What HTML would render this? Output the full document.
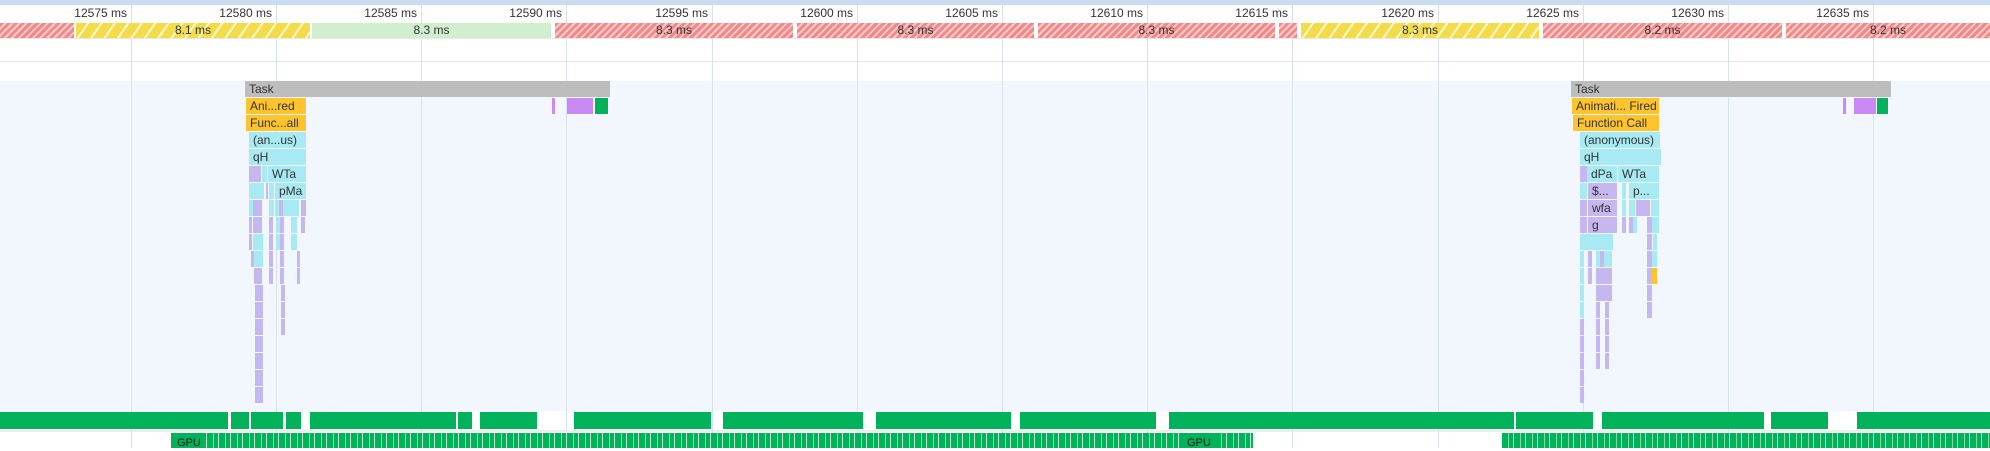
<!DOCTYPE html>
<html><head><meta charset="utf-8">
<style>
html,body{margin:0;padding:0;}
body{width:1990px;height:448px;position:relative;overflow:hidden;background:#fff;font-family:"Liberation Sans",sans-serif;}
.a{position:absolute;box-sizing:border-box;}
.t{font-size:12px;color:#333;white-space:nowrap;overflow:hidden;line-height:16px;padding-left:4px;}
.red{background:repeating-linear-gradient(135deg,#f08a8a 0 3px,#f9c9c9 3px 5px);}
.yel{background:repeating-linear-gradient(125deg,#f3dc4c 0 9px,#fff7c8 9px 11px);}
.grn{background:#d1efcf;}
.fr{font-size:12px;color:#333;text-align:center;line-height:15px;}
.c{background:#a8eaf3;}
.p{background:#c5b8ee;}
.y{background:#fec42e;}
.g{background:#00b35a;}
</style></head><body>
<div class="a" style="left:0;top:0;width:1990px;height:5px;background:#c9dcf3;"></div>
<div class="a" style="left:0;top:38px;width:1990px;height:1px;background:#e8e8e8;"></div>
<div class="a" style="left:0;top:61px;width:1990px;height:1px;background:#e8e8e8;"></div>
<div class="a" style="left:0;top:81px;width:1990px;height:330px;background:#f2f6fd;"></div>
<div class="a" style="left:0;top:430px;width:1990px;height:2px;background:#eee;"></div>
<div id="root"></div>
<script>
var R=document.getElementById('root'),H='';
function d(x,y,w,h,cls,txt,st){H+='<div class="a '+(cls||'')+'" style="left:'+x+'px;top:'+y+'px;width:'+w+'px;height:'+h+'px;'+(st||'')+'">'+(txt||'')+'</div>';}
var ticks=[131,276,421,566,712,857,1002,1147,1292,1438,1583,1728,1873],lab=12575;
ticks.forEach(function(x,i){d(x,5,1,443,'','','background:#d6e2f3;');d(x-100,5,96,17,'','<span style="float:right;font-size:12px;color:#333;line-height:17px">'+(lab+5*i)+' ms</span>');});
var fr=[[0,74,'red',''],[76,234,'yel','8.1 ms'],[312,239,'grn','8.3 ms'],[555,238,'red','8.3 ms'],[797,237,'red','8.3 ms'],[1038,237,'red','8.3 ms'],[1279,18,'red',''],[1301,238,'yel','8.3 ms'],[1543,239,'red','8.2 ms'],[1786,204,'red','8.2 ms']];
fr.forEach(function(f){d(f[0],23,f[1],15,f[2]+' fr',f[3]);});
function row(r){return 81+r*17;}
// left stack
d(245,81,365,16,'','<span class="t" style="display:block">Task</span>','background:#bdbdbd;');
d(246,98,60,16,'y t','Ani...red');d(246,115,60,16,'y t','Func...all');
d(249,132,57,16,'c t','(an...us)');d(249,149,57,16,'c t','qH');
d(249,166,12,16,'p');d(262,166,5,16,'c');d(268,166,38,16,'c t','WTa');
d(249,183,15,16,'c');d(266,183,2,16,'p');d(269,183,5,16,'c');d(275,183,31,16,'c t','pMa');
d(249,200,4,16,'c');d(253,200,9,16,'p');d(269,200,5,16,'c');d(275,200,4,16,'c');d(279,200,4,16,'p');d(283,200,16,16,'c');d(301,200,5,16,'p');
d(249,217,3,16,'p');d(253,217,9,16,'p');d(269,217,4,16,'p');d(276,217,4,16,'c');d(280,217,4,16,'p');d(291,217,6,16,'c');d(301,217,4,16,'p');
d(249,234,3,16,'p');d(253,234,10,16,'c');d(269,234,4,16,'p');d(276,234,4,16,'c');d(280,234,4,16,'p');d(291,234,6,16,'c');
d(251,251,3,16,'p');d(254,251,9,16,'c');d(269,251,4,16,'p');d(280,251,4,16,'p');d(297,251,3,16,'p');
d(254,268,8,16,'p');d(269,268,4,16,'p');d(280,268,4,16,'p');d(297,268,3,16,'p');
for(var r=12;r<19;r++)d(255,row(r),8,16,'p');
for(var r=12;r<15;r++)d(281,row(r),4,16,'p');
d(552,98,3,16,'','','background:#c98af5');d(567,98,26,16,'','','background:#c98af5');d(595,98,13,16,'g');
// right stack
d(1571,81,320,16,'','<span class="t" style="display:block">Task</span>','background:#bdbdbd;');
d(1572,98,87,16,'y t','Animati... Fired');d(1573,115,86,16,'y t','Function Call');
d(1580,132,80,16,'c t','(anonymous)');d(1580,149,81,16,'c t','qH');
d(1580,166,7,16,'p');d(1587,166,30,16,'c t','dPa');d(1618,166,41,16,'c t','WTa');
d(1580,183,7,16,'c');d(1588,183,29,16,'p t','$...');d(1622,183,4,16,'c');d(1629,183,30,16,'c t','p...');
d(1580,200,7,16,'p');d(1588,200,29,16,'p t','wfa');d(1622,200,4,16,'c');d(1629,200,6,16,'c');d(1636,200,14,16,'p');d(1651,200,8,16,'c');
d(1580,217,7,16,'p');d(1588,217,29,16,'p t','g');d(1622,217,4,16,'p');d(1629,217,4,16,'p');d(1633,217,4,16,'c');d(1647,217,5,16,'p');d(1652,217,7,16,'c');
d(1580,234,33,16,'c');d(1647,234,5,16,'p');d(1653,234,4,16,'c');
d(1580,251,4,16,'c');d(1588,251,4,16,'p');d(1596,251,4,16,'c');d(1600,251,4,16,'p');d(1604,251,8,16,'c');d(1647,251,5,16,'p');d(1652,251,5,16,'c');
d(1580,268,4,16,'c');d(1588,268,4,16,'p');d(1596,268,16,16,'p');d(1647,268,5,16,'p');d(1652,268,5,16,'y');
d(1580,285,4,16,'c');d(1596,285,16,16,'p');d(1647,285,5,16,'p');
d(1580,302,4,16,'c');d(1596,302,4,16,'p');d(1605,302,4,16,'p');d(1647,302,5,16,'p');
for(var r=14;r<17;r++){d(1580,row(r),4,16,'p');d(1596,row(r),4,16,'p');d(1605,row(r),4,16,'p');}
for(var r=17;r<19;r++)d(1580,row(r),4,16,'p');
d(1843,98,3,16,'','','background:#c98af5');d(1854,98,22,16,'','','background:#c98af5');d(1877,98,11,16,'g');
// green bar
var gb=[[0,228],[231,18],[251,32],[286,15],[310,146],[458,14],[480,57],[574,137],[723,140],[876,135],[1020,136],[1169,345],[1516,77],[1602,162],[1771,57],[1857,133]];
gb.forEach(function(s){d(s[0],412,s[1],17,'g');});
// GPU row
var st='background:repeating-linear-gradient(90deg,#00b35a 0 6px,#7fd9a5 6px 7px,#00b35a 7px 11px,#b8ebcc 11px 12px);';
d(171,433,1082,15,'','',st);d(1502,433,488,15,'','',st);
d(171,433,35,15,'g','<span style="font-size:11px;color:#222;padding-left:6px;line-height:15px">GPU</span>');
d(1181,433,36,15,'g','<span style="font-size:11px;color:#222;padding-left:6px;line-height:15px">GPU</span>');
R.innerHTML=H;
</script>
</body></html>
